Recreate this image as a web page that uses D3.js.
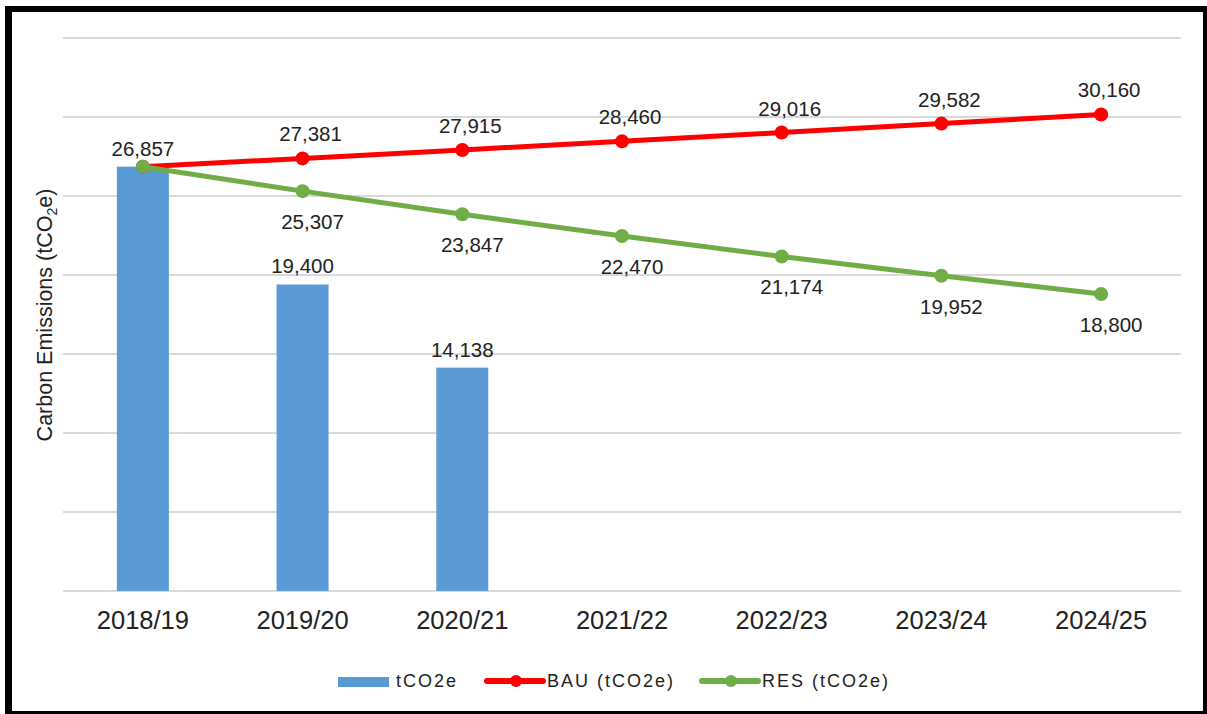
<!DOCTYPE html>
<html>
<head>
<meta charset="utf-8">
<script src="https://cdn.jsdelivr.net/npm/d3@7"></script>
<style>
  body { margin: 0; background: #fff; }
  svg text { font-family: "Liberation Sans", Arial, sans-serif; fill: #222; }
</style>
</head>
<body>
<div id="chart"></div>
<script>
// chart values
const years = ["2018/19", "2019/20", "2020/21", "2021/22", "2022/23", "2023/24", "2024/25"];
const actual = [26857, 19400, 14138];
const bau = [26857, 27381, 27915, 28460, 29016, 29582, 30160];
const res = [26857, 25307, 23847, 22470, 21174, 19952, 18800];
const gridTicks = [0, 5000, 10000, 15000, 20000, 25000, 30000, 35000];

const width = 1207, height = 714;
const blue = "#5b9bd5", red = "#ff0000", green = "#70ad47";
const fmt = d3.format(",");

const svg = d3.select("#chart")
  .append("svg")
  .attr("width", width)
  .attr("height", height);

// frame
svg.append("rect").attr("x", 5).attr("y", 6).attr("width", 1202).attr("height", 708).attr("fill", "#000");
svg.append("rect").attr("x", 12).attr("y", 12).attr("width", 1191).attr("height", 699).attr("fill", "#fff");

const x = d3.scaleBand().domain(years).range([63, 1181]).paddingInner(0);
const y = d3.scaleLinear().domain([0, 35000]).range([591, 38]);
const cx = d => x(d) + x.bandwidth() / 2;
const barW = 52;

// gridlines
svg.append("g")
  .selectAll("line")
  .data(gridTicks)
  .join("line")
  .attr("x1", 63).attr("x2", 1181)
  .attr("y1", d => y(d)).attr("y2", d => y(d))
  .attr("stroke", "#d9d9d9")
  .attr("stroke-width", 2);

// x axis labels
const xAxis = svg.append("g")
  .attr("transform", `translate(0,${y(0)})`)
  .call(d3.axisBottom(x).tickSize(0).tickPadding(20));
xAxis.select(".domain").remove();
xAxis.selectAll("text")
  .attr("font-size", 25.5)
  .attr("fill", "#222")
  .attr("dy", "0.71em")
  .attr("y", 20);

// y axis title
const title = svg.append("text")
  .attr("transform", `translate(52,315) rotate(-90)`)
  .attr("text-anchor", "middle")
  .attr("font-size", 21.5);
title.append("tspan").text("Carbon Emissions (tCO");
title.append("tspan").attr("font-size", 14).attr("dy", 5).text("2");
title.append("tspan").attr("dy", -5).text("e)");

// bars
svg.append("g")
  .selectAll("rect")
  .data(actual)
  .join("rect")
  .attr("x", (d, i) => cx(years[i]) - barW / 2)
  .attr("width", barW)
  .attr("y", d => y(d))
  .attr("height", d => y(0) - y(d))
  .attr("fill", blue);

svg.append("g")
  .selectAll("text")
  .data(actual)
  .join("text")
  .attr("x", (d, i) => cx(years[i]))
  .attr("y", d => y(d) - 11)
  .attr("text-anchor", "middle")
  .attr("font-size", 20.5)
  .text(d => fmt(d));

// lines
const line = d3.line()
  .x((d, i) => cx(years[i]))
  .y(d => y(d));

function drawSeries(values, color) {
  svg.append("path")
    .datum(values)
    .attr("d", line)
    .attr("fill", "none")
    .attr("stroke", color)
    .attr("stroke-width", 5)
    .attr("stroke-linejoin", "round");
  svg.append("g")
    .selectAll("circle")
    .data(values)
    .join("circle")
    .attr("cx", (d, i) => cx(years[i]))
    .attr("cy", d => y(d))
    .attr("r", 7)
    .attr("fill", color);
}
drawSeries(bau, red);
drawSeries(res, green);

// line labels (first point shares the bar label)
svg.append("g")
  .selectAll("text")
  .data(bau.slice(1))
  .join("text")
  .attr("x", (d, i) => cx(years[i + 1]) + 8)
  .attr("y", d => y(d) - 17)
  .attr("text-anchor", "middle")
  .attr("font-size", 20.5)
  .text(d => fmt(d));

svg.append("g")
  .selectAll("text")
  .data(res.slice(1))
  .join("text")
  .attr("x", (d, i) => cx(years[i + 1]) + 10)
  .attr("y", d => y(d) + 38)
  .attr("text-anchor", "middle")
  .attr("font-size", 20.5)
  .text(d => fmt(d));

// legend
const legend = svg.append("g").attr("font-size", 18).attr("letter-spacing", 2);
legend.append("rect").attr("x", 338).attr("y", 677).attr("width", 51).attr("height", 10).attr("fill", blue);
legend.append("text").attr("x", 396).attr("y", 687).text("tCO2e");

[[487, red, "BAU (tCO2e)"], [702, green, "RES (tCO2e)"]].forEach(([lx, color, label]) => {
  legend.append("line")
    .attr("x1", lx).attr("x2", lx + 56)
    .attr("y1", 681).attr("y2", 681)
    .attr("stroke", color).attr("stroke-width", 6).attr("stroke-linecap", "round");
  legend.append("circle").attr("cx", lx + 29).attr("cy", 681).attr("r", 6).attr("fill", color);
  legend.append("text").attr("x", lx + 60).attr("y", 687).text(label);
});
</script>
</body>
</html>
